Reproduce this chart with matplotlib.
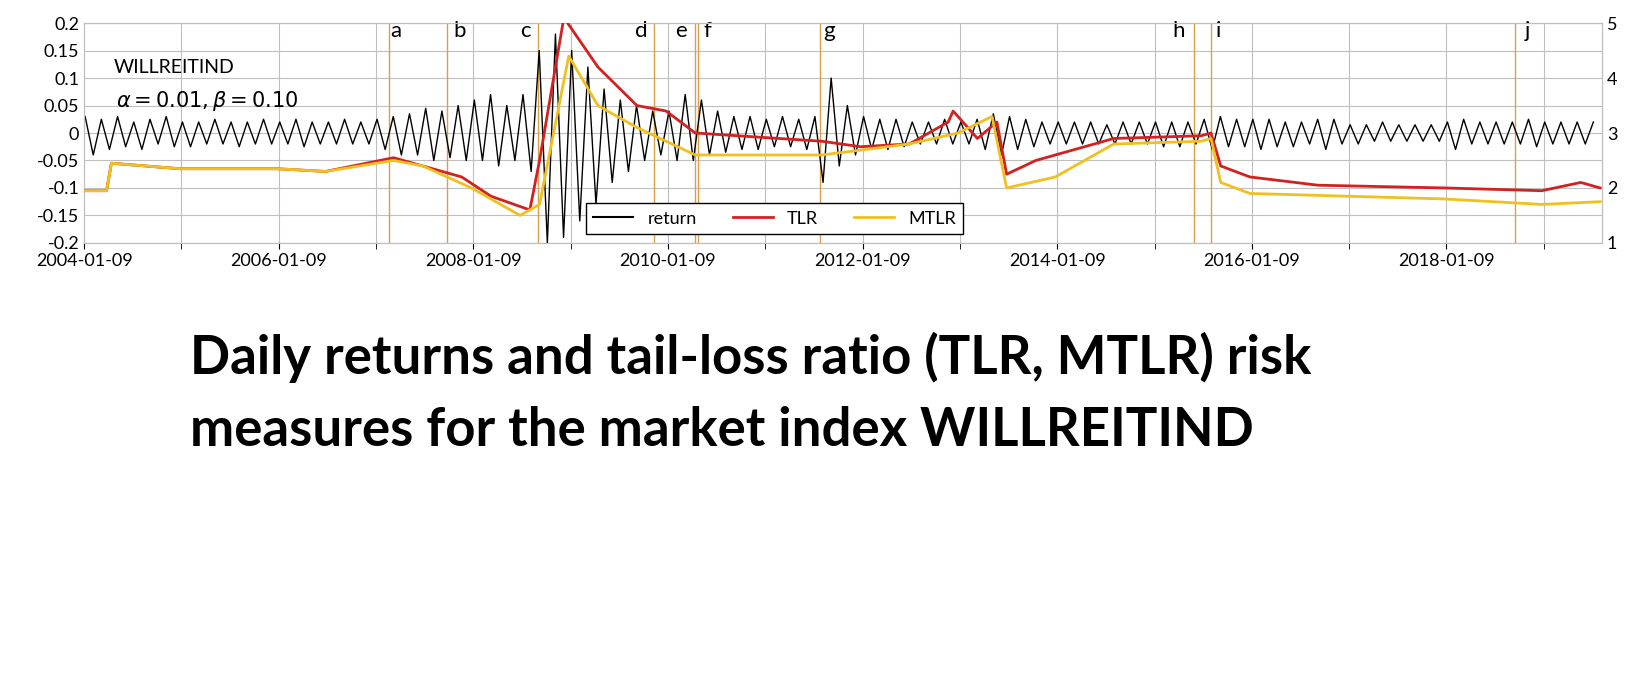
import matplotlib
matplotlib.use("Agg")
import matplotlib.pyplot as plt
import numpy as np
plt.rcParams['font.family'] = ['Lato', 'DejaVu Sans']

ret_by_year = [
 [0.03,-0.04,0.025,-0.03,0.03,-0.025,0.02,-0.03,0.025,-0.02,0.03,-0.025],
 [0.02,-0.025,0.02,-0.02,0.025,-0.02,0.02,-0.025,0.02,-0.02,0.025,-0.02],
 [0.02,-0.02,0.025,-0.025,0.02,-0.02,0.02,-0.02,0.025,-0.02,0.02,-0.02],
 [0.025,-0.03,0.03,-0.04,0.035,-0.04,0.045,-0.05,0.04,-0.045,0.05,-0.05],
 [0.06,-0.05,0.07,-0.06,0.05,-0.05,0.07,-0.07,0.15,-0.2,0.18,-0.19],
 [0.15,-0.16,0.12,-0.13,0.08,-0.09,0.06,-0.07,0.05,-0.05,0.04,-0.04],
 [0.04,-0.05,0.07,-0.05,0.06,-0.04,0.04,-0.035,0.03,-0.03,0.03,-0.03],
 [0.025,-0.025,0.03,-0.025,0.025,-0.03,0.03,-0.09,0.1,-0.06,0.05,-0.04],
 [0.03,-0.03,0.025,-0.03,0.025,-0.025,0.02,-0.02,0.02,-0.02,0.025,-0.02],
 [0.02,-0.02,0.025,-0.03,0.035,-0.04,0.03,-0.03,0.025,-0.025,0.02,-0.02],
 [0.02,-0.02,0.02,-0.02,0.02,-0.02,0.015,-0.02,0.02,-0.02,0.02,-0.02],
 [0.02,-0.025,0.02,-0.025,0.02,-0.02,0.025,-0.03,0.03,-0.025,0.025,-0.025],
 [0.025,-0.03,0.025,-0.025,0.02,-0.025,0.02,-0.02,0.025,-0.03,0.025,-0.02],
 [0.015,-0.02,0.015,-0.015,0.02,-0.015,0.015,-0.015,0.015,-0.015,0.015,-0.015],
 [0.02,-0.03,0.025,-0.02,0.02,-0.02,0.02,-0.02,0.02,-0.02,0.025,-0.025],
 [0.02,-0.02,0.02,-0.02,0.02,-0.02,0.02],
]
ret = [v for yr in ret_by_year for v in yr]
ret_t = [2004.03 + i / 12 for i in range(len(ret))]

tlr_t = [2004.0,2004.25,2004.3,2005.0,2006.0,2006.5,2007.2,2007.9,2008.2,2008.6,2008.7,2008.95,2009.3,2009.7,2010.0,2010.3,2011.6,2012.0,2012.5,2012.9,2012.95,2013.2,2013.4,2013.5,2013.8,2014.6,2015.5,2015.6,2015.7,2016.0,2016.7,2018.0,2019.0,2019.4,2019.6]
tlr   = [1.95,1.95,2.45,2.35,2.35,2.3,2.55,2.2,1.85,1.6,2.5,5.1,4.2,3.5,3.4,3.0,2.85,2.75,2.8,3.2,3.4,2.9,3.2,2.25,2.5,2.9,2.95,3.0,2.4,2.2,2.05,2.0,1.95,2.1,2.0]
mtlr_t = [2004.0,2004.25,2004.3,2005.0,2006.0,2006.5,2007.2,2007.5,2008.0,2008.5,2008.7,2009.0,2009.3,2009.7,2010.3,2011.6,2012.5,2013.0,2013.35,2013.5,2014.0,2014.6,2015.5,2015.6,2015.7,2016.0,2017.0,2018.0,2019.0,2019.6]
mtlr   = [1.95,1.95,2.45,2.35,2.35,2.3,2.5,2.4,2.0,1.5,1.7,4.4,3.5,3.1,2.6,2.6,2.8,3.0,3.3,2.0,2.2,2.8,2.85,2.9,2.1,1.9,1.85,1.8,1.7,1.75]

events = ["a","b","c","d","e","f","g","h","i","j"]
event_t = [2007.15,2007.75,2008.68,2009.88,2010.3,2010.33,2011.58,2015.43,2015.6,2018.72]
label_t = [2007.22,2007.88,2008.55,2009.75,2010.15,2010.42,2011.68,2015.27,2015.68,2018.85]

fig = plt.figure(figsize=(16.5, 7), dpi=100)
ax = fig.add_axes([0.051, 0.653, 0.920, 0.314])
ax2 = ax.twinx()
xmin, xmax = 2004.02, 2019.62
for y in np.arange(-0.2, 0.201, 0.05):
    ax.axhline(y, color="#bfbfbf", lw=0.8, zorder=0)
for yr in range(2005, 2020):
    ax.axvline(yr + 0.02, color="#bfbfbf", lw=0.8, zorder=0)
for t in event_t:
    ax.axvline(t, color="#d9a04a", lw=1.0, zorder=1)
ax.plot(ret_t, ret, color="black", lw=1.0, zorder=2)
ax2.plot(tlr_t, tlr, color="#d42020", lw=2, zorder=3)
ax2.plot(mtlr_t, mtlr, color="#f0c020", lw=2, zorder=3)
ax.set_xlim(xmin, xmax); ax.set_ylim(-0.2, 0.2)
ax2.set_ylim(1, 5)
ax.set_yticks(np.arange(-0.2, 0.201, 0.05))
ax.set_yticklabels(["-0.2","-0.15","-0.1","-0.05","0","0.05","0.1","0.15","0.2"], fontsize=13)
ax2.set_yticks([1,2,3,4,5]); ax2.set_yticklabels(["1","2","3","4","5"], fontsize=13)
ax.set_xticks([2004.02 + 2*k for k in range(8)])
ax.set_xticklabels([f"{2004+2*k}-01-09" for k in range(8)], fontsize=13)
ax.set_xticks([2005.02 + 2*k for k in range(8)], minor=True)
ax.tick_params(which="both", direction="out", length=4)
for a in (ax, ax2):
    for s in a.spines.values():
        s.set_color("#bfbfbf")
    a.tick_params(axis="y", length=0)
for lab, t in zip(events, label_t):
    ax.text(t, 0.185, lab, fontsize=16, ha="center", va="center", zorder=5)
ax.text(2004.32, 0.11, "WILLREITIND", fontsize=14)
ax.text(2004.35, 0.048, r"$\alpha = 0.01, \beta = 0.10$", fontsize=15)
from matplotlib.lines import Line2D
h = [Line2D([], [], color="black", lw=1.5), Line2D([], [], color="#d42020", lw=2), Line2D([], [], color="#f0c020", lw=2)]
leg = ax.legend(h, ["return", "TLR", "MTLR"], loc="lower center", bbox_to_anchor=(0.455, 0.0), ncol=3,
                fontsize=13, frameon=True, fancybox=False, edgecolor="black", framealpha=1, handlelength=2.2)
leg.set_zorder(10)
fig.text(0.115, 0.49, "Daily returns and tail-loss ratio (TLR, MTLR) risk", fontsize=38, fontweight="bold", va="center")
fig.text(0.115, 0.385, "measures for the market index WILLREITIND", fontsize=38, fontweight="bold", va="center")
fig.savefig("out.png", dpi=100)
